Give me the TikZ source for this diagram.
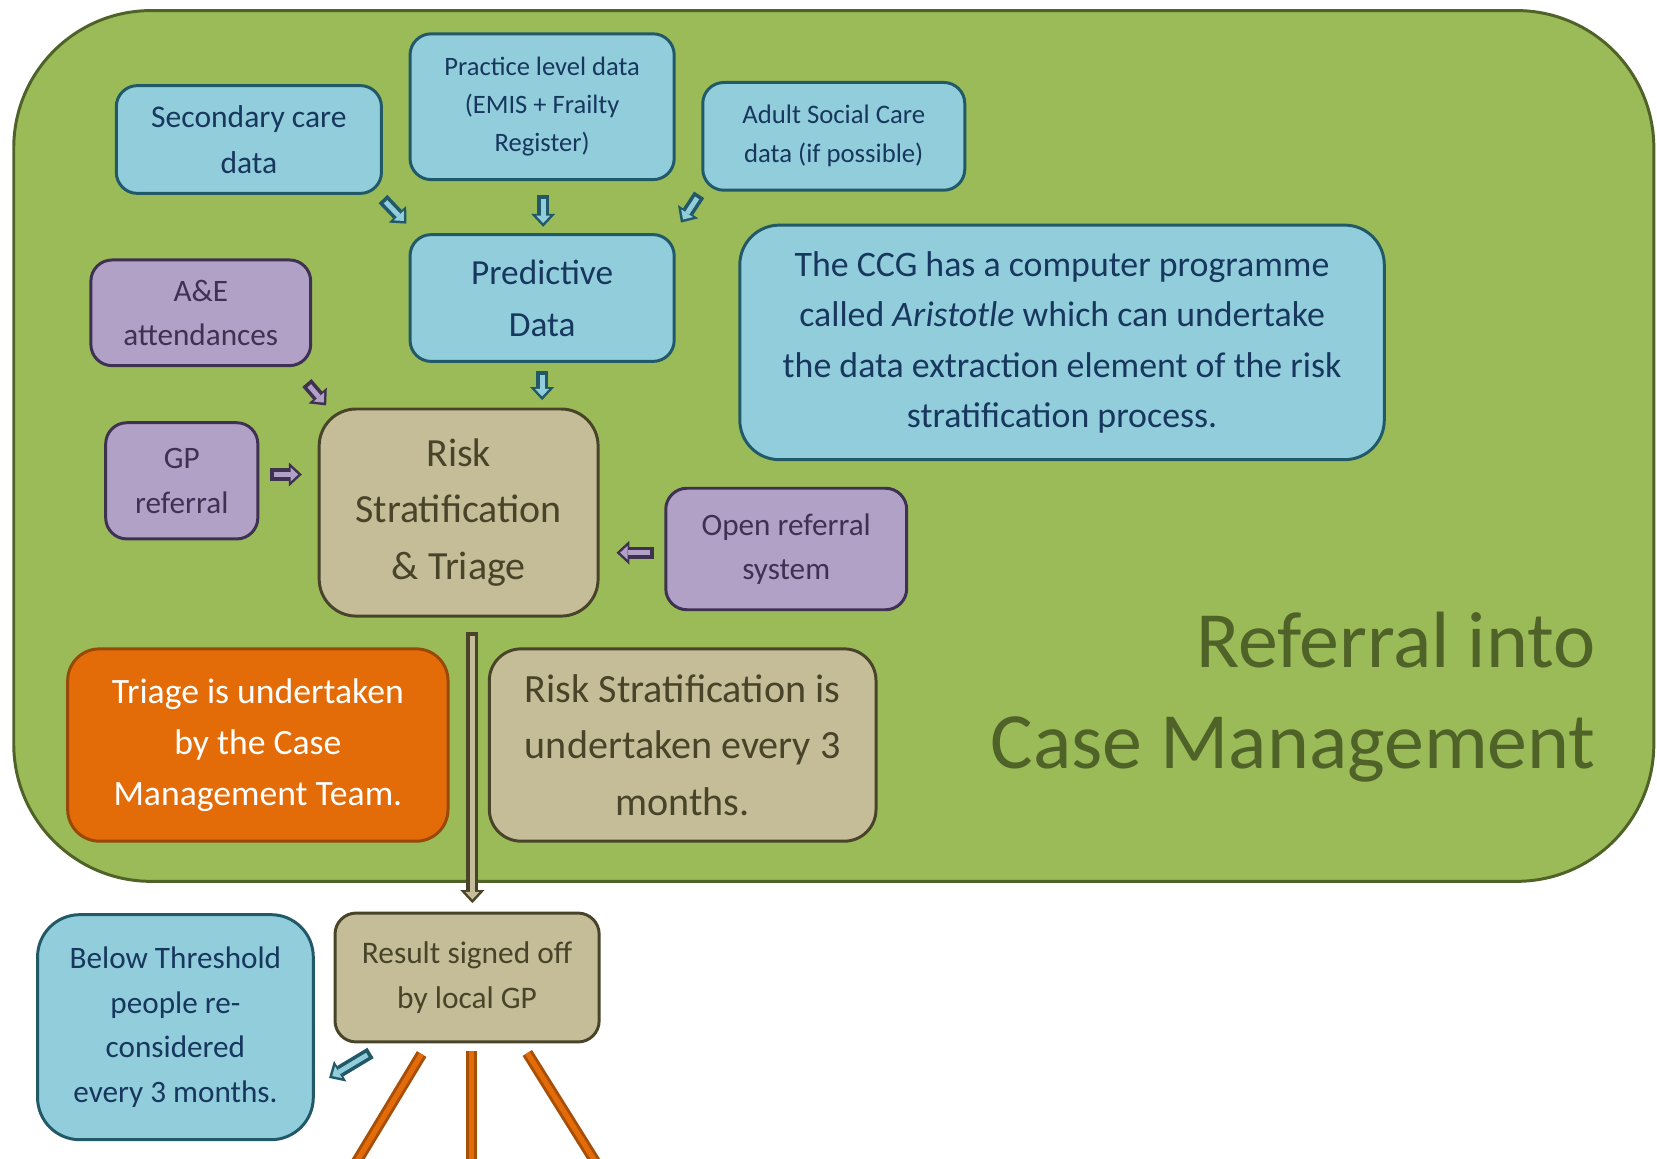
\documentclass[tikz,border=0pt]{standalone}
\usepackage{fontspec}
\setmainfont{Carlito}
\usepackage{tikz}
\usetikzlibrary{positioning, calc, arrows.meta}

\definecolor{leaf}{HTML}{9BBB59}
\definecolor{leafdark}{HTML}{4F6228}
\definecolor{sky}{HTML}{92CDDC}
\definecolor{skydark}{HTML}{215968}
\definecolor{skytext}{HTML}{17375E}
\definecolor{lilac}{HTML}{B2A1C7}
\definecolor{lilacdark}{HTML}{3F3151}
\definecolor{sand}{HTML}{C4BD97}
\definecolor{sanddark}{HTML}{494429}
\definecolor{rust}{HTML}{E36C09}
\definecolor{rustdark}{HTML}{984807}

\tikzset{
  card/.style = {rounded corners=0.4cm, line width=1.6pt, align=center, inner sep=0pt},
  databox/.style = {card, draw=skydark, fill=sky, text=skytext},
  refbox/.style = {card, draw=lilacdark, fill=lilac, text=lilacdark},
  riskbox/.style = {card, draw=sanddark, fill=sand, text=sanddark},
  teambox/.style = {card, draw=rustdark, fill=rust, text=white},
  blk/.style 2 args = {line width=6.5pt, draw=#1, -{Triangle[length=7pt,width=13pt,line width=0pt]},
    postaction={draw=#2, line width=2.6pt, -{Triangle[length=4pt,width=7.5pt,line width=0pt]}, shorten >=2pt, shorten <=2pt}},
  leg/.style = {line width=6pt, draw=rustdark!80!rust, postaction={draw=rust, line width=2.8pt}}
}

\begin{document}
\begin{tikzpicture}[x=0.02cm, y=-0.02cm]
    \useasboundingbox (0,0) rectangle (1568,1096);
    % green panel
    \draw[fill=leaf, draw=leafdark, line width=1.6pt, rounded corners=2.6cm] (13,10) rectangle (1565,834);

    \node[databox, minimum width=5.02cm, minimum height=2.04cm, font=\fontsize{17}{25}\selectfont] (sec) at (235.5,132) {Secondary care\\data};
    \node[databox, minimum width=5cm, minimum height=2.76cm, font=\fontsize{14.3}{20.5}\selectfont] (prac) at (513,101) {Practice level data\\(EMIS + Frailty\\Register)};
    \node[databox, minimum width=4.96cm, minimum height=2.04cm, font=\fontsize{14.4}{21}\selectfont] (adult) at (789,129) {Adult Social Care\\data (if possible)};
    \node[databox, minimum width=5cm, minimum height=2.4cm, font=\fontsize{19}{28}\selectfont] (pred) at (513,282) {Predictive\\Data};
    \node[databox, rounded corners=0.75cm, minimum width=12.2cm, minimum height=4.44cm, font=\fontsize{19.3}{27}\selectfont] (ccg) at (1005,324)
        {The CCG has a computer programme\\called \textit{Aristotle} which can undertake\\the data extraction element of the risk\\stratification process.};

    \node[refbox, minimum width=4.16cm, minimum height=2cm, font=\fontsize{16.8}{23.5}\selectfont] (ae) at (190,296) {A\&E\\attendances};
    \node[refbox, minimum width=2.88cm, minimum height=2.2cm, font=\fontsize{16.8}{24}\selectfont] (gp) at (172,455) {GP\\referral};
    \node[refbox, minimum width=4.56cm, minimum height=2.3cm, font=\fontsize{16.8}{24}\selectfont] (open) at (744,519.5) {Open referral\\system};

    \node[riskbox, rounded corners=0.7cm, minimum width=5.28cm, minimum height=3.92cm, font=\fontsize{21.5}{30.5}\selectfont] (risk) at (434,485) {Risk\\Stratification\\\& Triage};
    \node[teambox, rounded corners=0.6cm, minimum width=7.2cm, minimum height=3.64cm, font=\fontsize{19.2}{27.5}\selectfont] (triage) at (244,705)
        {Triage is undertaken\\by the Case\\Management Team.};
    \node[riskbox, rounded corners=0.6cm, minimum width=7.32cm, minimum height=3.64cm, font=\fontsize{21.6}{30.5}\selectfont] (rsnote) at (646,705)
        {Risk Stratification is\\undertaken every 3\\months.};

    \node[anchor=base east, text=leafdark, font=\fontsize{43}{54}\selectfont] (ttl1) at (1516,632) {Referral into};
    \node[anchor=base east, text=leafdark, font=\fontsize{43}{54}\selectfont] (ttl2) at (1516,727) {Case Management};

    \node[riskbox, minimum width=5cm, minimum height=2.44cm, font=\fontsize{16.9}{24.5}\selectfont] (result) at (442,925) {Result signed off\\by local GP};
    \node[databox, rounded corners=0.8cm, minimum width=5.22cm, minimum height=4.26cm, font=\fontsize{16.8}{24}\selectfont] (below) at (166,972)
        {Below Threshold\\people re-\\considered\\every 3 months.};

    % block arrows
    \draw[blk={skydark}{sky}] ([shift={(0,4)}]sec.south east) -- ([shift={(-2,-9)}]pred.north west);
    \draw[blk={skydark}{sky}] ([shift={(1,13)}]prac.south) -- ([shift={(1,-6)}]pred.north);
    \draw[blk={skydark}{sky}] ([shift={(-2,3)}]adult.south west) -- ([shift={(5,-10)}]pred.north east);
    \draw[blk={skydark}{sky}] ([shift={(0,8)}]pred.south) -- ($(pred.south |- risk.north)+(0,-7)$);
    \draw[blk={lilacdark}{lilac}] ([shift={(-5,15)}]ae.south east) -- ([shift={(8,-2)}]risk.north west);
    \draw[blk={lilacdark}{lilac}] ([shift={(10,-6)}]gp.east) -- ($(gp.east -| risk.west)+(-15,-6)$);
    \draw[blk={lilacdark}{lilac}] ([shift={(-10,3.5)}]open.west) -- ($(open.west -| risk.east)+(16,3.5)$);
    \draw[blk={sanddark}{sand}] ([shift={(13,14)}]risk.south) -- ([shift={(5,-8)}]result.north);
    \draw[blk={skydark}{sky}] ([shift={(35,9)}]result.south west) -- ([shift={(13.5,48)}]below.east);

    % legs going down
    \coordinate (legl) at (331,1110);
    \coordinate (legm) at (446,1110);
    \coordinate (legr) at (570,1110);
    \draw[leg] ([shift={(-43,10)}]result.south) -- (legl);
    \draw[leg] ([shift={(4,7)}]result.south) -- (legm);
    \draw[leg] ([shift={(57,9)}]result.south) -- (legr);
\end{tikzpicture}
\end{document}
